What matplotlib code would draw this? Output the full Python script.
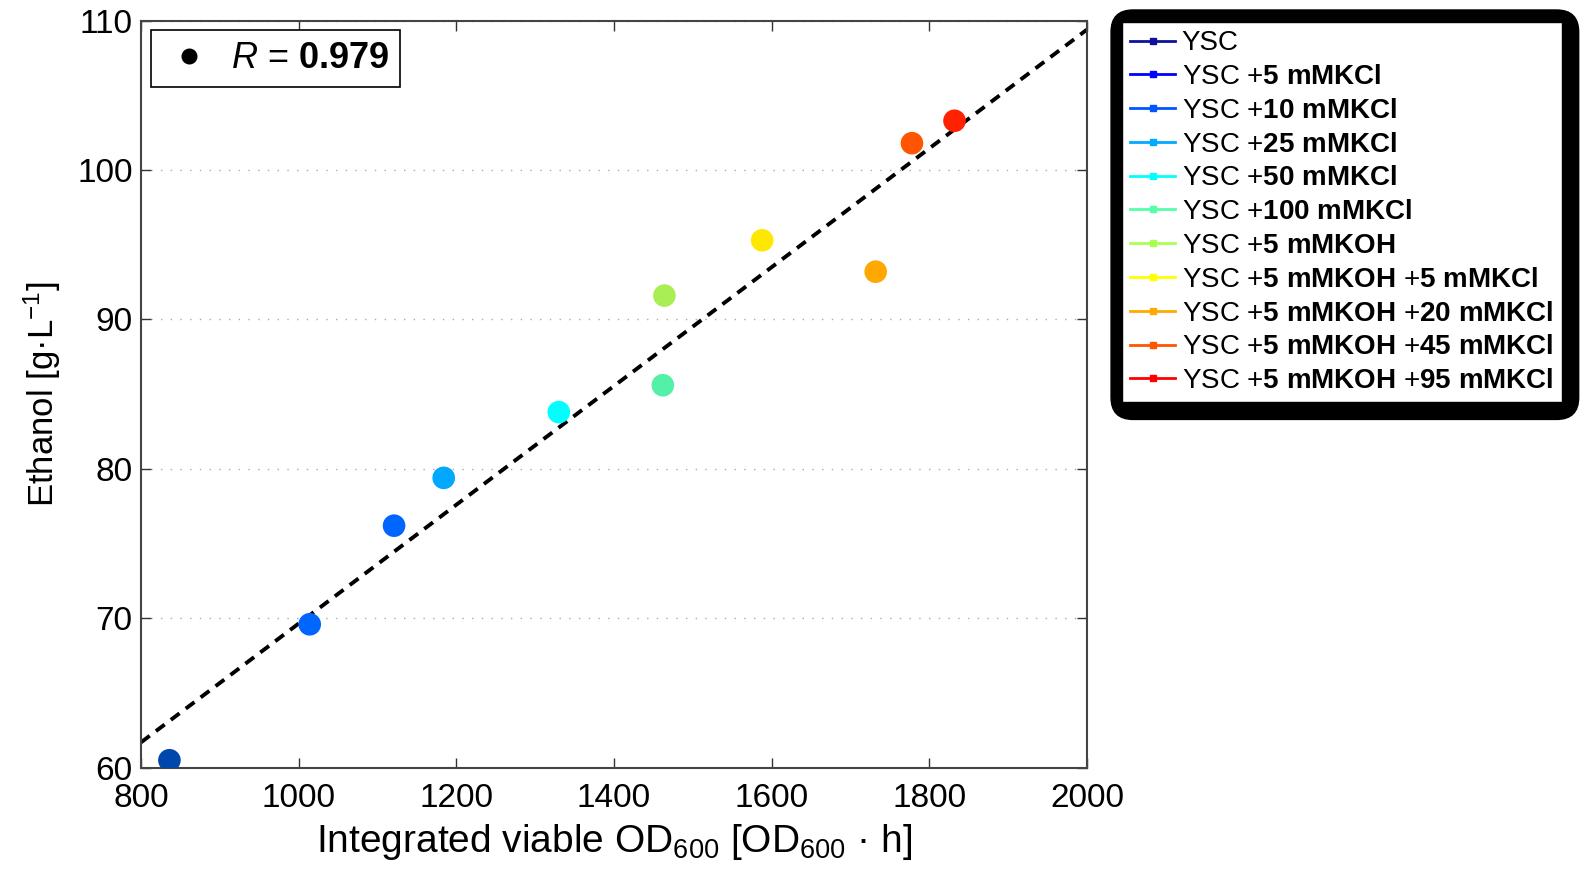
import matplotlib
matplotlib.use("Agg")
import matplotlib.pyplot as plt
from matplotlib.lines import Line2D
from matplotlib.patches import FancyBboxPatch
from matplotlib.transforms import IdentityTransform

plt.rcParams['font.family'] = ['Liberation Sans', 'DejaVu Sans']
plt.rcParams['mathtext.fontset'] = 'custom'
plt.rcParams['mathtext.rm'] = 'Liberation Sans'
plt.rcParams['mathtext.it'] = 'Liberation Sans:italic'
plt.rcParams['mathtext.bf'] = 'Liberation Sans:bold'

# conditions (legend order)
conditions = [
    "YSC",
    r"YSC +$\mathbf{5\ mMKCl}$",
    r"YSC +$\mathbf{10\ mMKCl}$",
    r"YSC +$\mathbf{25\ mMKCl}$",
    r"YSC +$\mathbf{50\ mMKCl}$",
    r"YSC +$\mathbf{100\ mMKCl}$",
    r"YSC +$\mathbf{5\ mMKOH}$",
    r"YSC +$\mathbf{5\ mMKOH}$ +$\mathbf{5\ mMKCl}$",
    r"YSC +$\mathbf{5\ mMKOH}$ +$\mathbf{20\ mMKCl}$",
    r"YSC +$\mathbf{5\ mMKOH}$ +$\mathbf{45\ mMKCl}$",
    r"YSC +$\mathbf{5\ mMKOH}$ +$\mathbf{95\ mMKCl}$",
]
legend_colors = ['#10109a', '#0000ff', '#0055ff', '#00aaff', '#00ffff', '#55ffaa',
                 '#aaff55', '#ffff00', '#ffaa00', '#ff5500', '#ff0000']

# integrated viable OD600 vs ethanol, one point per condition
od_integral = [836, 1014, 1121, 1184, 1330, 1462, 1464, 1588, 1732, 1778, 1832]
ethanol = [60.5, 69.6, 76.2, 79.4, 83.8, 85.6, 91.6, 95.3, 93.2, 101.8, 103.3]
point_colors = ['#0047ab', '#0066ff', '#0066ff', '#00a8ff', '#00ffff', '#55f0a8',
                '#aaee55', '#ffe800', '#ffa800', '#ff5500', '#ff2200']

# regression line
fit_x = [800, 2000]
fit_y = [61.7, 109.4]
r_value = 0.979

fig = plt.figure(figsize=(15.9, 8.76), dpi=100)
ax = fig.add_axes([0.0887, 0.1236, 0.5949, 0.8528])

ax.plot(fit_x, fit_y, color='black', linewidth=2.8, dashes=(2.8, 2.0), zorder=2)
ax.scatter(od_integral, ethanol, s=265, c=point_colors, edgecolors='none', zorder=3)

ax.set_xlim(800, 2000)
ax.set_ylim(60, 110)
ax.set_xticks(range(800, 2001, 200))
ax.set_yticks(range(60, 111, 10))
ax.yaxis.grid(True, linestyle=(0, (1, 6)), color='#aaaaaa', linewidth=1)
ax.tick_params(direction='in', top=True, right=True, length=7, width=1,
               labelsize=24, colors='#333333', labelcolor='black')
ax.tick_params(axis='x', pad=11)
ax.tick_params(axis='y', pad=6)
for sp in ax.spines.values():
    sp.set_color('#444444')
    sp.set_linewidth(1.5)

ax.set_xlabel(r"Integrated viable OD$_{600}$ [OD$_{600}$ · h]", fontsize=28, labelpad=6)
ax.set_ylabel(r"Ethanol [g·L$^{-1}$]", fontsize=25, labelpad=10)

# R box inside the axes
r_handle = Line2D([], [], linestyle='none', marker='o', markersize=10.5, color='black')
r_leg = ax.legend([r_handle], [rf"$\mathit{{R}}$ = $\mathbf{{{r_value}}}$"],
                  loc='upper left', bbox_to_anchor=(0.011, 0.987), borderaxespad=0,
                  fontsize=26, fancybox=False, edgecolor='black', framealpha=1,
                  handlelength=1.5, handletextpad=0.4, borderpad=0.3)
r_leg.get_frame().set_linewidth(1.2)

# condition legend on the right with thick rounded black border
handles = [Line2D([], [], color=c, linewidth=2, marker='s', markersize=5) for c in legend_colors]
leg = fig.legend(handles, conditions, loc='upper left', bbox_to_anchor=(0.7057, 0.9749),
                 bbox_transform=fig.transFigure, borderaxespad=0, fontsize=20,
                 fancybox=False, edgecolor='black', framealpha=1,
                 handlelength=1.6, handletextpad=0.25, labelspacing=0.28, borderpad=0.3)
leg.set_zorder(10)

# place the black border round the legend once its size is known
fig.canvas.draw()
bb = leg.get_window_extent()
border = FancyBboxPatch((bb.x0 - 11, bb.y0 - 17), bb.width + 28, bb.height + 29,
                        boxstyle="round,pad=0,rounding_size=22",
                        transform=IdentityTransform(), facecolor='black', edgecolor='black',
                        zorder=5)
fig.patches.append(border)

fig.savefig("out.png", dpi=100)
